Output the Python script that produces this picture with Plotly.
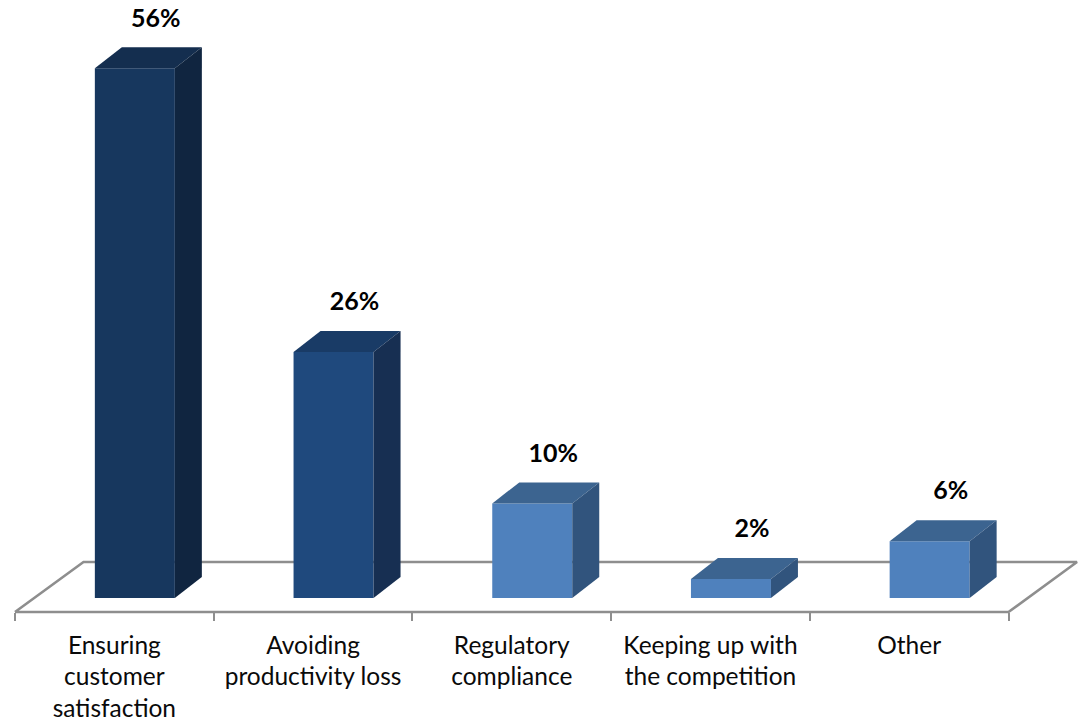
import plotly.graph_objects as go

# Chart data
categories = ["Ensuring<br>customer<br>satisfaction", "Avoiding<br>productivity loss",
              "Regulatory<br>compliance", "Keeping up with<br>the competition", "Other"]
values = [56, 26, 10, 2, 6]
value_labels = ["56%", "26%", "10%", "2%", "6%"]

# Face colours of each column
front_colors = ["#17375E", "#1F497D", "#4F81BD", "#4F81BD", "#4F81BD"]
top_colors = ["#142E4F", "#193B66", "#3C6490", "#3C6490", "#3C6490"]
side_colors = ["#102540", "#172F52", "#31547D", "#31547D", "#31547D"]

# Pixel scale of the axes and the oblique projection used for depth
W, H = 1080, 724
AXIS_LEFT, AXIS_RIGHT, AXIS_Y = 15, 1008.5, 612
PLOT_BOTTOM = 640
PX_PER_CAT = (AXIS_RIGHT - AXIS_LEFT) / len(categories)
PX_PER_PCT = 9.46
ZERO_Y = 598

BAR_W = 80 / PX_PER_CAT
BAR_OFFSET = -19.5 / PX_PER_CAT
DEPTH_X = 27 / PX_PER_CAT
DEPTH_Y = 21 / PX_PER_PCT
FLOOR_Y = -(AXIS_Y - ZERO_Y) / PX_PER_PCT
FLOOR_DX = 68.5 / PX_PER_CAT
FLOOR_DY = 50 / PX_PER_PCT
LABEL_DX = 41.5 / PX_PER_CAT
LABEL_DY = 48 / PX_PER_PCT

x_lo, x_hi = -0.5, len(categories) - 0.5
x_range = [x_lo - AXIS_LEFT / PX_PER_CAT, x_lo + (W - AXIS_LEFT) / PX_PER_CAT]
y_range = [-(PLOT_BOTTOM - ZERO_Y) / PX_PER_PCT, ZERO_Y / PX_PER_PCT]

GRAY = "#8E8E8E"
fig = go.Figure()

# Floor outline, on the lower subplot so the columns cover it
fig.add_trace(go.Scatter(
    x=[x_lo, x_lo + FLOOR_DX, x_hi + FLOOR_DX, x_hi, x_lo],
    y=[FLOOR_Y, FLOOR_Y + FLOOR_DY, FLOOR_Y + FLOOR_DY, FLOOR_Y, FLOOR_Y],
    mode="lines", line=dict(color=GRAY, width=2.6), xaxis="x", yaxis="y",
    hoverinfo="skip", showlegend=False))

# Front faces
fig.add_trace(go.Bar(
    x=list(range(len(values))), y=values, width=BAR_W, offset=BAR_OFFSET,
    marker=dict(color=front_colors, line=dict(width=0)),
    xaxis="x2", yaxis="y", showlegend=False))

# Top and side faces of each column, projected from its value
for i, v in enumerate(values):
    x0 = i + BAR_OFFSET
    x1 = x0 + BAR_W
    fig.add_trace(go.Scatter(
        x=[x0, x0 + DEPTH_X, x1 + DEPTH_X, x1, x0],
        y=[v, v + DEPTH_Y, v + DEPTH_Y, v, v],
        mode="lines", fill="toself", fillcolor=top_colors[i],
        line=dict(width=0), xaxis="x2", yaxis="y", hoverinfo="skip", showlegend=False))
    fig.add_trace(go.Scatter(
        x=[x1, x1 + DEPTH_X, x1 + DEPTH_X, x1, x1],
        y=[0, DEPTH_Y, v + DEPTH_Y, v, 0],
        mode="lines", fill="toself", fillcolor=side_colors[i],
        line=dict(width=0), xaxis="x2", yaxis="y", hoverinfo="skip", showlegend=False))

# Value labels
fig.add_trace(go.Scatter(
    x=[i + LABEL_DX for i in range(len(values))],
    y=[v + LABEL_DY for v in values],
    mode="text", text=value_labels, textposition="middle center",
    textfont=dict(family="Lato", size=25, color="#000000", weight="bold"),
    xaxis="x2", yaxis="y", cliponaxis=False, hoverinfo="skip", showlegend=False))

fig.update_layout(
    width=W, height=H, margin=dict(l=0, r=0, t=0, b=0),
    paper_bgcolor="white", plot_bgcolor="rgba(0,0,0,0)",
    barmode="overlay", showlegend=False,
    xaxis=dict(
        domain=[0, 1], range=x_range, anchor="free", position=(H - AXIS_Y) / H,
        tickmode="array", tickvals=list(range(len(categories))), ticktext=categories,
        ticks="", ticklen=0, ticklabelstandoff=16, showgrid=False, zeroline=False,
        showline=False,
        tickfont=dict(family="Lato", size=24.5, color="#0A0A0A"),
        minor=dict(tickmode="array",
                   tickvals=[i - 0.5 for i in range(len(categories) + 1)],
                   ticks="outside", ticklen=8, tickwidth=2, tickcolor=GRAY,
                   showgrid=False),
        automargin=False, fixedrange=True),
    xaxis2=dict(
        domain=[0, 1], range=x_range, anchor="y", visible=False,
        fixedrange=True, automargin=False),
    yaxis=dict(
        domain=[(H - PLOT_BOTTOM) / H, 1], range=y_range,
        visible=False, fixedrange=True, automargin=False),
)

fig.write_html("out.html")
